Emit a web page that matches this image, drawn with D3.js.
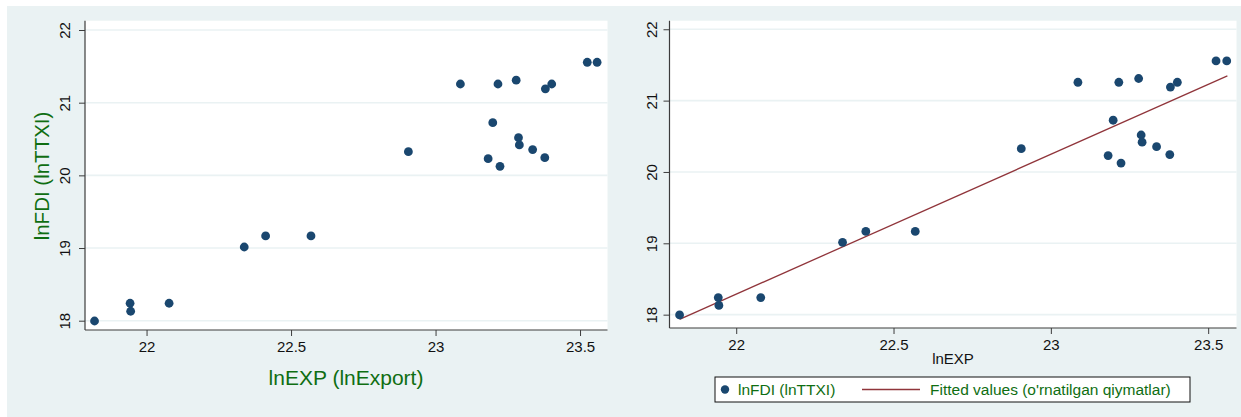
<!DOCTYPE html>
<html>
<head>
<meta charset="utf-8">
<script src="https://cdn.jsdelivr.net/npm/d3@7"></script>
<style>
  html, body { margin: 0; padding: 0; background: #ffffff; }
  svg { display: block; }
  text { font-family: "Liberation Sans", Arial, sans-serif; }
</style>
</head>
<body>
<svg id="chart" width="1241" height="417"></svg>
<script>
// Observations: log exports (lnEXP) and log FDI (lnFDI)
const lnEXP = [21.82, 21.943, 21.945, 22.078, 22.338, 22.412, 22.569, 22.906,
               23.086, 23.216, 23.279, 23.38, 23.402, 23.525, 23.559,
               23.198, 23.287, 23.29, 23.336, 23.182, 23.223, 23.378];
const lnFDI = [17.996, 18.24, 18.13, 18.24, 19.014, 19.166, 19.166, 20.326,
               21.257, 21.257, 21.31, 21.19, 21.257, 21.556, 21.556,
               20.725, 20.518, 20.418, 20.354, 20.229, 20.124, 20.243];

// Linear fit endpoints (fitted values over the observed lnEXP range)
const fitX = [21.82, 23.561];
const fitY = [17.935, 21.346];

const xTicks = [22, 22.5, 23, 23.5];
const yTicks = [18, 19, 20, 21, 22];

const legendLabels = ["lnFDI (lnTTXI)", "Fitted values (o'rnatilgan qiymatlar)"];

const BG = "#eaf2f3";
const NAVY = "#1a476f";
const MAROON = "#90353b";
const GREEN = "#0f6e12";
const AXIS = "#3c3c3c";

const svg = d3.select("#chart");

// graph background
svg.append("rect").attr("x", 7).attr("y", 6).attr("width", 1234).attr("height", 411).attr("fill", BG);

const points = lnEXP.map((x, i) => ({ x, y: lnFDI[i] }));

function panel(cfg) {
  const x = d3.scaleLinear().domain(cfg.xDomain).range([cfg.left, cfg.right]);
  const y = d3.scaleLinear().domain(cfg.yDomain).range([cfg.bottom, cfg.top]);
  const g = svg.append("g");

  // plot region
  g.append("rect")
    .attr("x", cfg.left).attr("y", cfg.top)
    .attr("width", cfg.right - cfg.left).attr("height", cfg.bottom - cfg.top)
    .attr("fill", "#ffffff");

  // horizontal grid
  g.selectAll(".grid").data(yTicks).join("line")
    .attr("x1", cfg.left).attr("x2", cfg.right)
    .attr("y1", d => y(d)).attr("y2", d => y(d))
    .attr("stroke", BG).attr("stroke-width", 1.6);

  // y axis
  const ya = g.append("g").attr("transform", `translate(${cfg.left},0)`)
    .call(d3.axisLeft(y).tickValues(yTicks).tickSize(6).tickFormat(d3.format("d")));
  ya.select(".domain").attr("stroke", AXIS).attr("stroke-width", 1.2)
    .attr("d", `M0,${cfg.bottom}V${cfg.top}`);
  ya.selectAll(".tick line").attr("stroke", AXIS);
  ya.selectAll(".tick text")
    .attr("x", null).attr("dy", null)
    .attr("text-anchor", "middle")
    .attr("transform", `translate(${-cfg.yLabelOffset},0) rotate(-90)`)
    .attr("dy", "0.35em")
    .attr("fill", "#111").style("font-size", "15px")
    .style("font-family", "'Liberation Sans', Arial, sans-serif");

  // x axis
  const xa = g.append("g").attr("transform", `translate(0,${cfg.bottom})`)
    .call(d3.axisBottom(x).tickValues(xTicks).tickSize(6).tickFormat(d => String(d)));
  xa.select(".domain").attr("stroke", AXIS).attr("stroke-width", 1.2)
    .attr("d", `M${cfg.left},0H${cfg.right}`);
  xa.selectAll(".tick line").attr("stroke", AXIS);
  xa.selectAll(".tick text")
    .attr("y", 11).attr("dy", "0.71em")
    .attr("fill", "#111").style("font-size", "15px")
    .style("font-family", "'Liberation Sans', Arial, sans-serif");

  // fitted line
  if (cfg.fit) {
    g.append("line")
      .attr("x1", x(fitX[0])).attr("y1", y(fitY[0]))
      .attr("x2", x(fitX[1])).attr("y2", y(fitY[1]))
      .attr("stroke", MAROON).attr("stroke-width", 1.3);
  }

  // scatter
  g.selectAll(".pt").data(points).join("circle")
    .attr("cx", d => x(d.x)).attr("cy", d => y(d.y))
    .attr("r", 4.4).attr("fill", NAVY);

  return { x, y, g };
}

// left panel: scatter only
const L = panel({
  left: 85, right: 607.5, top: 20.7, bottom: 330,
  xDomain: [21.787, 23.595], yDomain: [17.872, 22.128],
  yLabelOffset: 20, fit: false
});
L.g.append("text")
  .attr("transform", "translate(42,176) rotate(-90)")
  .attr("text-anchor", "middle").attr("dy", "0.35em")
  .attr("fill", GREEN).style("font-size", "20.5px")
  .text("lnFDI (lnTTXI)");
L.g.append("text")
  .attr("x", 346).attr("y", 378).attr("text-anchor", "middle").attr("dy", "0.35em")
  .attr("fill", GREEN).style("font-size", "21px")
  .text("lnEXP (lnExport)");

// right panel: scatter with linear fit
const R = panel({
  left: 669.5, right: 1236.5, top: 20.7, bottom: 328,
  xDomain: [21.788, 23.590], yDomain: [17.813, 22.12],
  yLabelOffset: 18, fit: true
});
R.g.append("text")
  .attr("x", 953).attr("y", 359).attr("text-anchor", "middle").attr("dy", "0.35em")
  .attr("fill", "#111").style("font-size", "15px")
  .text("lnEXP");

// legend
const lg = svg.append("g");
lg.append("rect").attr("x", 715).attr("y", 377).attr("width", 475).attr("height", 25)
  .attr("fill", "#ffffff").attr("stroke", "#111").attr("stroke-width", 1);
lg.append("circle").attr("cx", 725).attr("cy", 389.5).attr("r", 4.2).attr("fill", NAVY);
lg.append("text").attr("x", 738).attr("y", 389.5).attr("dy", "0.35em")
  .attr("fill", GREEN).style("font-size", "15.5px").text(legendLabels[0]);
lg.append("line").attr("x1", 862).attr("x2", 920).attr("y1", 389.5).attr("y2", 389.5)
  .attr("stroke", MAROON).attr("stroke-width", 1.3);
lg.append("text").attr("x", 930).attr("y", 389.5).attr("dy", "0.35em")
  .attr("fill", GREEN).style("font-size", "15.5px").text(legendLabels[1]);
</script>
</body>
</html>
